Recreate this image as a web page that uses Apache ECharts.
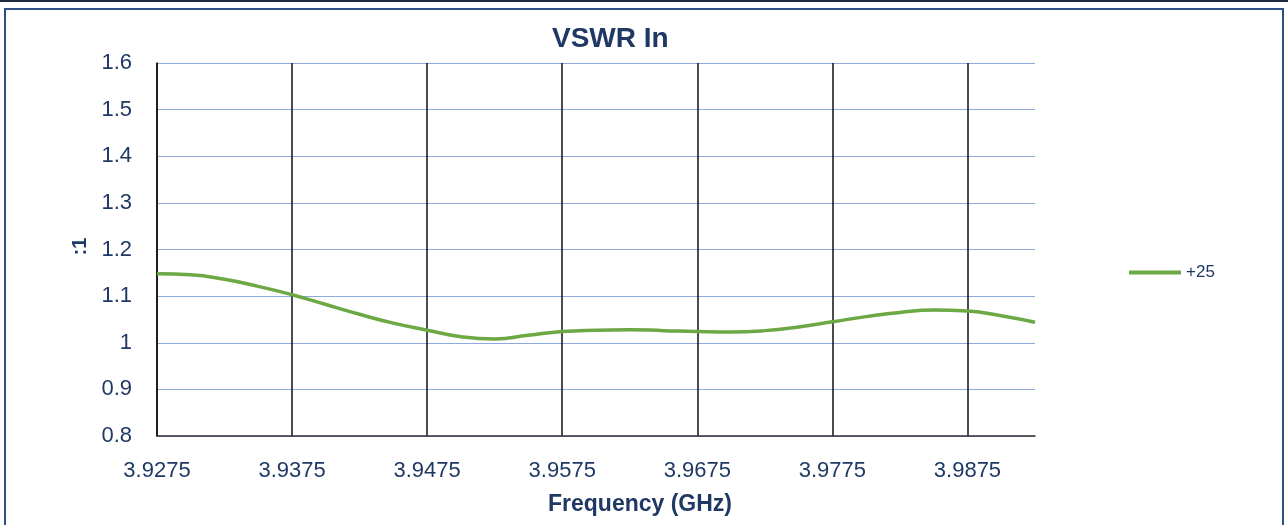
<!DOCTYPE html>
<html>
<head>
<meta charset="utf-8">
<script src="https://cdn.jsdelivr.net/npm/echarts@6/dist/echarts.min.js"></script>
<style>
  html, body { margin: 0; padding: 0; background: #ffffff; }
  #chart { width: 1288px; height: 525px; }
</style>
</head>
<body>
<div id="chart"></div>
<script>
// Frequency categories (GHz)
const frequencies = [
  '3.9275','3.9300','3.9325','3.9350','3.9375','3.9400','3.9425','3.9450','3.9475',
  '3.9500','3.9525','3.9550','3.9575','3.9600','3.9625','3.9650','3.9675','3.9700',
  '3.9725','3.9750','3.9775','3.9800','3.9825','3.9850','3.9875','3.9900','3.9925'
];
// Displayed tick labels
const tickLabels = ['3.9275','3.9375','3.9475','3.9575','3.9675','3.9775','3.9875'];
// VSWR series "+25"
const seriesName = '+25';
const vswr = [
  1.148, 1.146, 1.136, 1.121, 1.103, 1.082, 1.061, 1.042, 1.027,
  1.013, 1.008, 1.016, 1.024, 1.027, 1.028, 1.026, 1.024, 1.023,
  1.026, 1.034, 1.045, 1.056, 1.065, 1.070, 1.068, 1.058, 1.044
];
const yMin = 0.8, yMax = 1.6, yStep = 0.1;

const navy = '#1F3864';
const chart = echarts.init(document.getElementById('chart'), null, { renderer: 'canvas' });
chart.setOption({
  animation: false,
  backgroundColor: '#ffffff',
  textStyle: { fontFamily: 'Liberation Sans' },
  graphic: [
    { type: 'rect', shape: { x: 0, y: 0, width: 1288, height: 2 }, style: { fill: '#1c2a44' }, silent: true },
    { type: 'rect', shape: { x: 5, y: 9, width: 1278, height: 530 }, style: { fill: 'none', stroke: '#2E4F85', lineWidth: 2 }, silent: true }
  ],
  title: {
    text: 'VSWR In',
    left: 547,
    top: 20,
    textStyle: { fontFamily: 'Liberation Sans', fontWeight: 'bold', fontSize: 28, color: navy }
  },
  legend: {
    data: [seriesName],
    left: 1124,
    top: 259,
    icon: 'rect',
    itemWidth: 52,
    itemHeight: 4,
    itemGap: 10,
    textStyle: { fontFamily: 'Liberation Sans', fontSize: 17, color: navy }
  },
  grid: { left: 157, right: 253, top: 63, bottom: 89, containLabel: false },
  xAxis: {
    type: 'category',
    data: frequencies,
    boundaryGap: false,
    name: 'Frequency (GHz)',
    nameLocation: 'middle',
    nameGap: 57,
    nameTextStyle: { fontFamily: 'Liberation Sans', fontWeight: 'bold', fontSize: 23, color: navy, padding: [0, 0, 0, 88] },
    axisLine: { show: true, lineStyle: { color: '#333333', width: 1.5 } },
    axisTick: { show: false },
    axisLabel: {
      interval: 3,
      margin: 24,
      fontSize: 22,
      color: navy,
      formatter: function (v) { return tickLabels.indexOf(v) >= 0 ? v : ''; }
    },
    splitLine: { show: true, interval: 3, lineStyle: { color: '#111111', width: 1.5 } }
  },
  yAxis: {
    type: 'value',
    min: yMin,
    max: yMax,
    interval: yStep,
    name: ':1',
    nameLocation: 'middle',
    nameRotate: 90,
    nameGap: 64,
    nameTextStyle: { fontFamily: 'Liberation Sans', fontWeight: 'bold', fontSize: 20, color: navy, padding: [0, 0, 0, 6] },
    axisLine: { show: true, lineStyle: { color: '#111111', width: 1.5 } },
    axisTick: { show: false },
    axisLabel: { margin: 25, fontSize: 22, color: navy, padding: [4, 0, 0, 0] },
    splitLine: { show: true, lineStyle: { color: '#8FAADC', width: 1 } }
  },
  series: [{
    name: seriesName,
    type: 'line',
    data: vswr,
    smooth: true,
    showSymbol: false,
    symbol: 'none',
    itemStyle: { color: '#6CA844' },
    lineStyle: { color: '#6CA844', width: 3.5 }
  }]
});
</script>
</body>
</html>
